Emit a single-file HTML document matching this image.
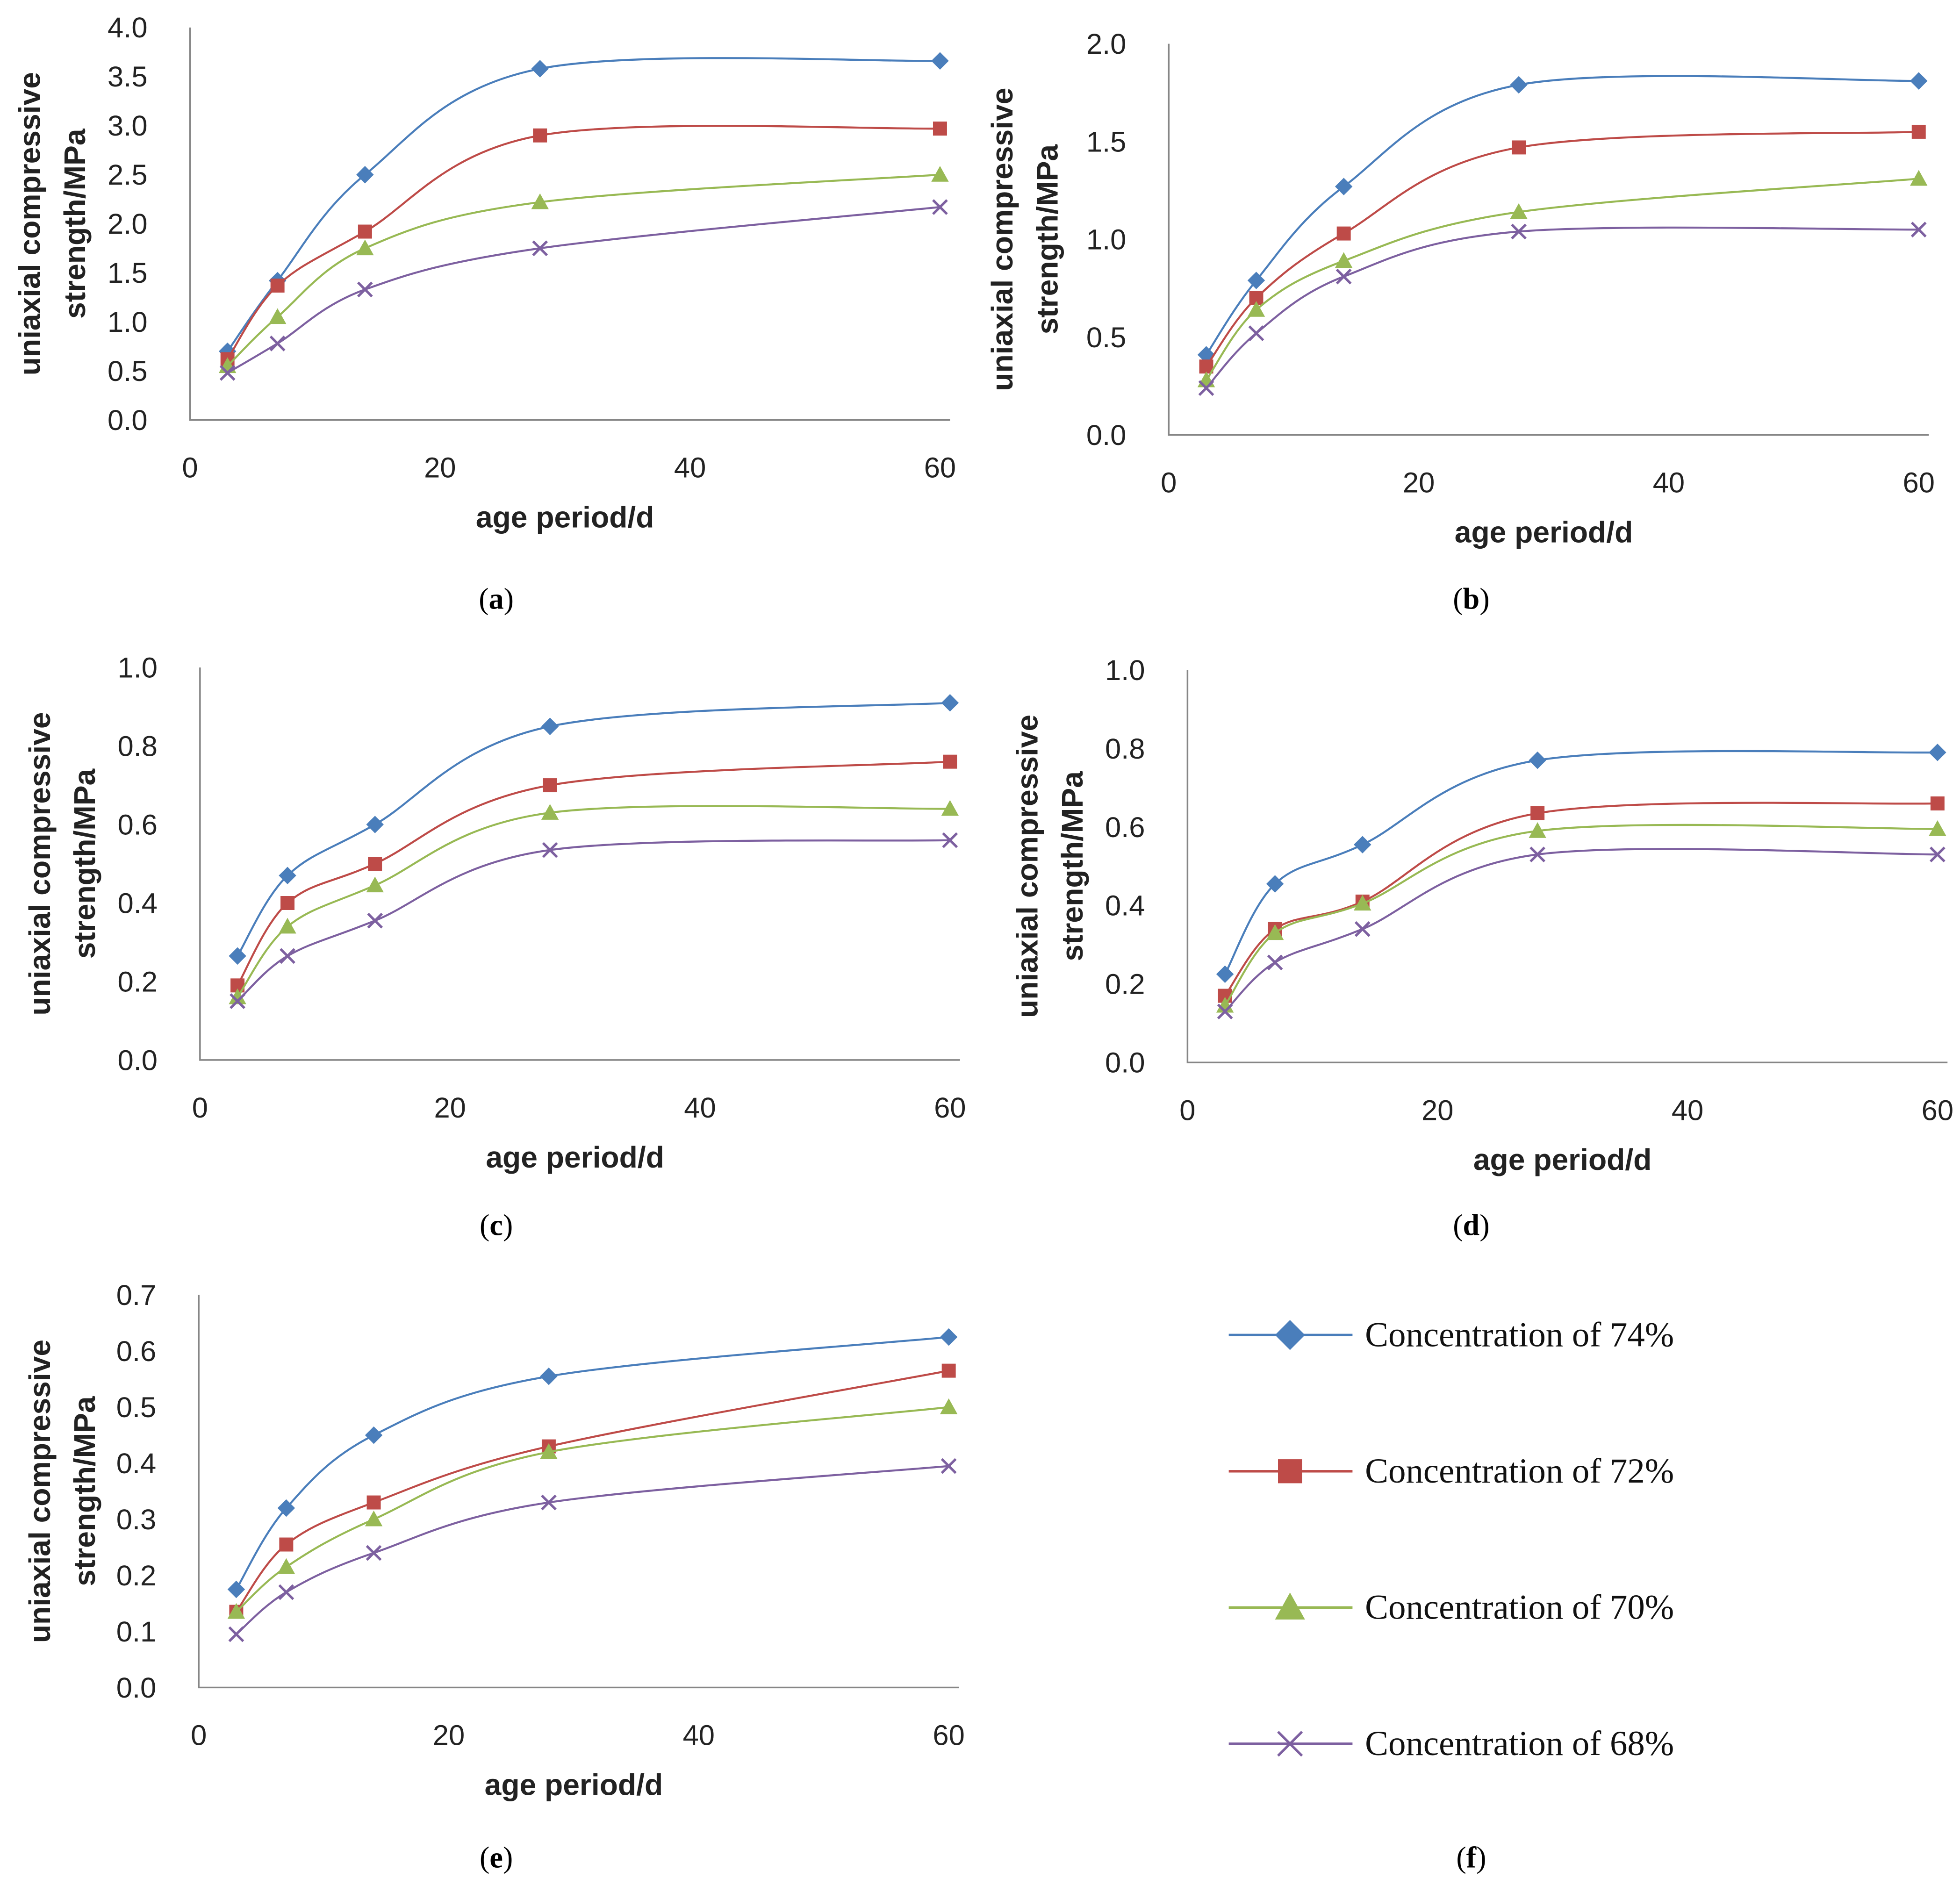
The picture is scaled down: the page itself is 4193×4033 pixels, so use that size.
<!DOCTYPE html>
<html><head><meta charset="utf-8"><style>
html,body{margin:0;padding:0;background:#fff;}
svg{display:block;}
text{font-family:"Liberation Sans",sans-serif;}
text.serif{font-family:"Liberation Serif",serif;}
</style></head><body>
<svg id="fig" width="4193" height="4033" viewBox="0 0 1568 1508" preserveAspectRatio="none" xmlns="http://www.w3.org/2000/svg"></svg>
<script>
const ages = [3, 7, 14, 28, 60];
const seriesNames = ["Concentration of 74%", "Concentration of 72%", "Concentration of 70%", "Concentration of 68%"];
const xTicks = [0, 20, 40, 60];
const aS74 = [0.7, 1.42, 2.5, 3.58, 3.66];
const aS72 = [0.62, 1.37, 1.92, 2.9, 2.97];
const aS70 = [0.55, 1.05, 1.75, 2.22, 2.5];
const aS68 = [0.48, 0.78, 1.33, 1.75, 2.17];
const aTicks = ["0.0","0.5","1.0","1.5","2.0","2.5","3.0","3.5","4.0"];
const bS74 = [0.41, 0.79, 1.27, 1.79, 1.81];
const bS72 = [0.35, 0.7, 1.03, 1.47, 1.55];
const bS70 = [0.28, 0.64, 0.89, 1.14, 1.31];
const bS68 = [0.24, 0.52, 0.81, 1.04, 1.05];
const bTicks = ["0.0","0.5","1.0","1.5","2.0"];
const cS74 = [0.265, 0.47, 0.6, 0.85, 0.91];
const cS72 = [0.19, 0.4, 0.5, 0.7, 0.76];
const cS70 = [0.16, 0.34, 0.445, 0.63, 0.64];
const cS68 = [0.15, 0.265, 0.355, 0.535, 0.56];
const cTicks = ["0.0","0.2","0.4","0.6","0.8","1.0"];
const dS74 = [0.225, 0.455, 0.555, 0.77, 0.79];
const dS72 = [0.17, 0.34, 0.41, 0.635, 0.66];
const dS70 = [0.145, 0.33, 0.405, 0.59, 0.595];
const dS68 = [0.13, 0.255, 0.34, 0.53, 0.53];
const dTicks = ["0.0","0.2","0.4","0.6","0.8","1.0"];
const eS74 = [0.175, 0.32, 0.45, 0.555, 0.625];
const eS72 = [0.135, 0.255, 0.33, 0.43, 0.565];
const eS70 = [0.135, 0.215, 0.3, 0.42, 0.5];
const eS68 = [0.095, 0.17, 0.24, 0.33, 0.395];
const eTicks = ["0.0","0.1","0.2","0.3","0.4","0.5","0.6","0.7"];

const colors = ["#4a7ebb", "#be4b48", "#98b954", "#7d60a0"];
const markers = ["diamond", "square", "triangle", "cross"];
const NS = "http://www.w3.org/2000/svg";
const svg = document.getElementById("fig");
function mk(tag, attrs, parent) {
  const e = document.createElementNS(NS, tag);
  for (const k in attrs) e.setAttribute(k, attrs[k]);
  (parent || svg).appendChild(e);
  return e;
}
function marker(g, type, x, y, c, s) {
  let e;
  if (type === "diamond") e = mk("polygon", {points:`${x},${y-s} ${x+s},${y} ${x},${y+s} ${x-s},${y}`, fill:c}, g);
  else if (type === "square") e = mk("rect", {x:x-s*0.8, y:y-s*0.8, width:s*1.6, height:s*1.6, fill:c}, g);
  else if (type === "triangle") e = mk("polygon", {points:`${x},${y-s} ${x+s},${y+s*0.8} ${x-s},${y+s*0.8}`, fill:c}, g);
  else e = mk("path", {d:`M${x-s*0.8},${y-s*0.8}L${x+s*0.8},${y+s*0.8}M${x-s*0.8},${y+s*0.8}L${x+s*0.8},${y-s*0.8}`, stroke:c, "stroke-width":2, fill:"none"}, g);
  return e;
}
function smoothPath(pts) {
  let d = `M${pts[0][0]},${pts[0][1]}`;
  for (let i = 0; i < pts.length - 1; i++) {
    const p0 = pts[Math.max(0,i-1)], p1 = pts[i], p2 = pts[i+1], p3 = pts[Math.min(pts.length-1,i+2)];
    const c1 = [p1[0]+(p2[0]-p0[0])/6, p1[1]+(p2[1]-p0[1])/6];
    const c2 = [p2[0]-(p3[0]-p1[0])/6, p2[1]-(p3[1]-p1[1])/6];
    d += `C${c1[0]},${c1[1]} ${c2[0]},${c2[1]} ${p2[0]},${p2[1]}`;
  }
  return d;
}
function panel(id, cfg, series, ticks) {
  const g = mk("g", {});
  
  
  const ymax = parseFloat(ticks[ticks.length-1]);
  const sx = v => cfg.x0 + (cfg.x1 - cfg.x0) * v / 60;
  const sy = v => cfg.y0 - (cfg.y0 - cfg.yTop) * v / ymax;
  const ax = mk("path", {d:`M${cfg.x0},${cfg.yTop}V${cfg.y0}H${cfg.x1+8}`, stroke:"#868686", "stroke-width":1.3, fill:"none"}, g);
  
  
  ticks.forEach(t => {
    const tx = mk("text", {x:cfg.x0-34, y:sy(parseFloat(t))+8, "text-anchor":"end", "font-size":23, fill:"#222"}, g);
    tx.textContent = t;
    
    
  });
  xTicks.forEach(t => {
    const tx = mk("text", {x:sx(t), y:cfg.y0+46, "text-anchor":"middle", "font-size":23, fill:"#222"}, g);
    tx.textContent = t;
    
    
  });
  const xt = mk("text", {x:(cfg.x0+cfg.x1)/2, y:cfg.y0+86, "text-anchor":"middle", "font-size":24, "font-weight":"bold", fill:"#222"}, g);
  xt.textContent = "age period/d";
  
  
  const cy = (cfg.y0 + cfg.yTop) / 2;
  const yt = mk("text", {transform:`translate(${cfg.ytx},${cy}) rotate(-90)`, "text-anchor":"middle", "font-size":24, "font-weight":"bold", fill:"#222"}, g);
  
  
  const l1 = mk("tspan", {x:0, y:0}, yt); l1.textContent = "uniaxial compressive";
  const l2 = mk("tspan", {x:0, y:36}, yt); l2.textContent = "strength/MPa";
  series.forEach((vals, si) => {
    const pts = vals.map((v, i) => [sx(ages[i]), sy(v)]);
    const p = mk("path", {d:smoothPath(pts), stroke:colors[si], "stroke-width":1.6, fill:"none"}, g);
    
    
    pts.forEach(pt => {
      const m = marker(g, markers[si], pt[0], pt[1], colors[si], 7);
      
      
    });
  });
  const cap = mk("text", {x:cfg.capX, y:cfg.capY, "text-anchor":"middle", "font-size":24, "class":"serif", style:"font-family:'Liberation Serif',serif", fill:"#000"}, g);
  cap.innerHTML = '(<tspan font-weight="bold">' + id + '</tspan>)';
  
  
}
panel("a", {x0:152, x1:752, y0:336, yTop:22, ytx:32, capX:397, capY:487}, [aS74,aS72,aS70,aS68], aTicks);
panel("b", {x0:935, x1:1535, y0:348, yTop:35, ytx:810, capX:1177, capY:487}, [bS74,bS72,bS70,bS68], bTicks);
panel("c", {x0:160, x1:760, y0:848, yTop:534, ytx:40, capX:397, capY:988}, [cS74,cS72,cS70,cS68], cTicks);
panel("d", {x0:950, x1:1550, y0:850, yTop:536, ytx:830, capX:1177, capY:988}, [dS74,dS72,dS70,dS68], dTicks);
panel("e", {x0:159, x1:759, y0:1350, yTop:1036, ytx:40, capX:397, capY:1494}, [eS74,eS72,eS70,eS68], eTicks);

const lg = mk("g", {});


const legY = [1068, 1177, 1286, 1395];
seriesNames.forEach((n, i) => {
  const e = mk("g", {}, lg);
  
  
  mk("line", {x1:983, x2:1082, y1:legY[i], y2:legY[i], stroke:colors[i], "stroke-width":2}, e);
  marker(e, markers[i], 1032, legY[i], colors[i], 12);
  const t = mk("text", {x:1092, y:legY[i]+9, "font-size":28, "class":"serif", style:"font-family:'Liberation Serif',serif", fill:"#111"}, e);
  t.textContent = n;
});
const cf = mk("text", {x:1177, y:1494, "text-anchor":"middle", "font-size":24, "class":"serif", style:"font-family:'Liberation Serif',serif"});
cf.innerHTML = '(<tspan font-weight="bold">f</tspan>)';


</script>
</body></html>
